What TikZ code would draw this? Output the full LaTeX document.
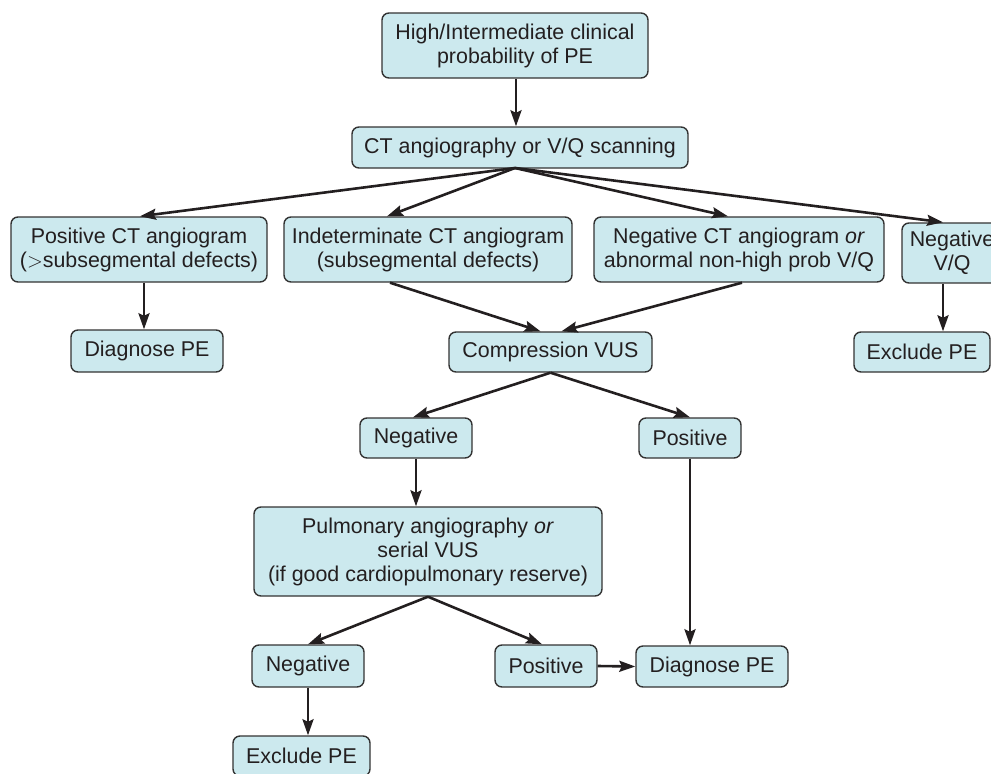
\documentclass[tikz,border=0pt]{standalone}
\usepackage{fontspec}
\setmainfont{Liberation Sans}
\usetikzlibrary{arrows.meta}
\definecolor{boxfill}{RGB}{204,233,238}
\definecolor{boxline}{RGB}{51,51,51}
\definecolor{inkcol}{RGB}{35,31,32}
\begin{document}
\begin{tikzpicture}[x=1pt,y=-1pt,>={Stealth[length=16pt,width=11pt,inset=2.5pt]},line join=round]
	\tikzset{box style/.style={draw=boxline,fill=boxfill,line width=1.4pt,rounded corners=7pt,align=center,inner sep=0pt,text=inkcol,font=\fontsize{21.4}{24}\selectfont},
		arrow style/.style={->,line width=2.6pt,draw=inkcol}}
	\useasboundingbox (0,0) rectangle (991,774);
	\clip (0,0) rectangle (991,774);
	%% first steps
	\node[box style,minimum width=266pt,minimum height=65pt] (prob) at (515,45.5) {High/Intermediate clinical\\probability of PE};
	\node[box style,minimum width=336pt,minimum height=41pt] (ct) at (520,147.5) {CT angiography or V/Q scanning};
	\coordinate (fan) at (515,168);
	%% results of imaging
	\node[box style,minimum width=256pt,minimum height=65pt] (posct) at (139,249.5) {Positive CT angiogram\\($>$subsegmental defects)};
	\node[box style,minimum width=288pt,minimum height=65pt] (indet) at (428,249.5) {Indeterminate CT angiogram\\(subsegmental defects)};
	\node[box style,minimum width=290pt,minimum height=65pt] (negct) at (739,249.5) {Negative CT angiogram \textit{or}\\abnormal non-high prob V/Q};
	\node[box style,minimum width=100pt,minimum height=60pt] (negvq) at (952,253) {Negative\\V/Q};
	\node[box style,minimum width=152pt,minimum height=42pt] (diagA) at (147,351) {Diagnose PE};
	\node[box style,minimum width=136pt,minimum height=40pt] (exclA) at (922,352) {Exclude PE};
	%% ultrasound
	\node[box style,minimum width=203pt,minimum height=40pt] (comp) at (550.5,352) {Compression VUS};
	\node[box style,minimum width=112pt,minimum height=40pt] (negA) at (416,438) {Negative};
	\node[box style,minimum width=102pt,minimum height=40pt] (posA) at (690,438) {Positive};
	\node[box style,minimum width=348pt,minimum height=89pt] (pulm) at (428,551.5) {Pulmonary angiography \textit{or}\\serial VUS\\(if good cardiopulmonary reserve)};
	\node[box style,minimum width=112pt,minimum height=42pt] (negB) at (308,666) {Negative};
	\node[box style,minimum width=102pt,minimum height=42pt] (posB) at (546,666) {Positive};
	\node[box style,minimum width=152pt,minimum height=41pt] (diagB) at (712,666.5) {Diagnose PE};
	\node[box style,minimum width=137pt,minimum height=40pt] (exclB) at (301.5,756) {Exclude PE};
	%% arrows
	\draw[arrow style] ([xshift=1pt]prob.south) -- ([xshift=1pt]prob.south |- ct.north);
	\draw[arrow style] (fan) -- ([xshift=1pt]posct.north);
	\draw[arrow style] (fan) -- ([xshift=-41pt]indet.north);
	\draw[arrow style] (fan) -- ([xshift=-11pt]negct.north);
	\draw[arrow style] (fan) -- ([xshift=-9pt]negvq.north);
	\draw[arrow style] ([xshift=5pt]posct.south) -- ([xshift=-3pt]diagA.north);
	\draw[arrow style] ([xshift=-9pt]negvq.south) -- ([xshift=-9pt]negvq.south |- exclA.north);
	\draw[arrow style] ([xshift=-38pt]indet.south) -- ([xshift=-10pt]comp.north);
	\draw[arrow style] ([xshift=3pt]negct.south) -- ([xshift=11pt]comp.north);
	\draw[arrow style] (comp.south) -- ([xshift=-3pt]negA.north);
	\draw[arrow style] (comp.south) -- (posA.north);
	\draw[arrow style] (negA.south) -- (negA.south |- pulm.north);
	\draw[arrow style] (posA.south) -- (posA.south |- diagB.north);
	\draw[arrow style] (pulm.south) -- (negB.north);
	\draw[arrow style] (pulm.south) -- ([xshift=-4pt]posB.north);
	\draw[arrow style] (posB.east) -- (diagB.west);
	\draw[arrow style] (negB.south) -- (negB.south |- exclB.north);
\end{tikzpicture}
\end{document}
